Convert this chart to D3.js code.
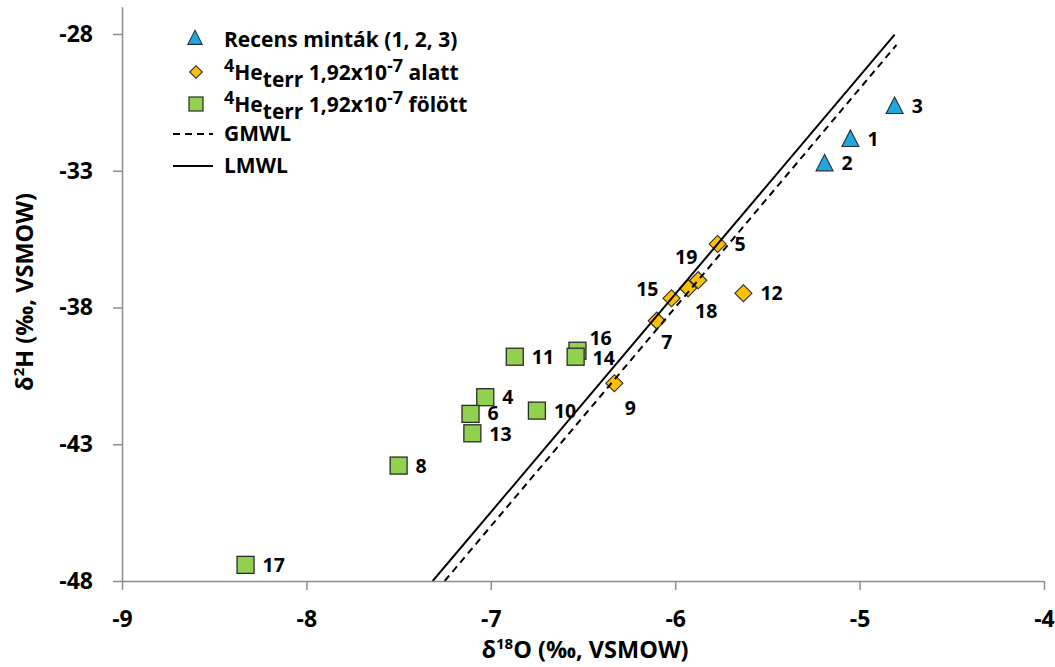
<!DOCTYPE html>
<html>
<head>
<meta charset="utf-8">
<script src="https://cdn.jsdelivr.net/npm/d3@7"></script>
<style>
  html, body { margin: 0; padding: 0; background: #fff; }
  svg { display: block; font-family: "Open Sans", "DejaVu Sans", sans-serif; }
</style>
</head>
<body>
<svg id="chart" width="1055" height="667"></svg>
<script>
// Sample ids and isotope values (δ18O, δ2H in ‰ VSMOW)
const recentIds = ["1", "2", "3"];
const recentO18 = [-5.05, -5.19, -4.81];
const recentH2  = [-31.84, -32.73, -30.63];

const lowHeIds = ["5", "19", "18", "15", "7", "12", "9"];
const lowHeO18 = [-5.77, -5.875, -5.93, -6.02, -6.10, -5.63, -6.33];
const lowHeH2  = [-35.68, -37.0, -37.3, -37.66, -38.48, -37.48, -40.77];

const highHeIds = ["11", "16", "14", "4", "6", "13", "10", "8", "17"];
const highHeO18 = [-6.87, -6.53, -6.54, -7.03, -7.11, -7.10, -6.75, -7.50, -8.33];
const highHeH2  = [-39.8, -39.58, -39.8, -41.28, -41.89, -42.6, -41.77, -43.78, -47.41];

// Meteoric water lines (end points)
const gmwlO18 = [-7.25, -4.80];
const gmwlH2  = [-48.0, -28.4];
const lmwlO18 = [-7.315, -4.81];
const lmwlH2  = [-48.0, -28.02];

// Axis ticks
const xTicks = [-9, -8, -7, -6, -5, -4];
const yTicks = [-48, -43, -38, -33, -28];

// Label placement around each marker: [dx, dy, anchor]
const labelPlace = {
  "16": [12, -13, "start"],
  "14": [17, 1, "start"],
  "19": [-12, -23, "middle"],
  "15": [-13, -9, "end"],
  "18": [7, 23, "start"],
  "7":  [10, 21, "middle"],
  "9":  [16, 25, "middle"],
  "6":  [17, -1, "start"],
  "13": [17, 1, "start"]
};
const defaultPlace = [17, 0, "start"];

const svg = d3.select("#chart");
const x = d3.scaleLinear().domain([-9, -4]).range([122, 1044]);
const y = d3.scaleLinear().domain([-48, -27]).range([581, 6.65]);

const axisColor = "#8c8c8c";

// X axis
const gx = svg.append("g").attr("transform", `translate(0,${y(-48)})`)
  .call(d3.axisBottom(x).tickValues(xTicks).tickSize(9).tickPadding(21)
    .tickFormat(d => String(d)));
gx.select(".domain").attr("stroke", axisColor).attr("stroke-width", 1.5)
  .attr("d", `M${x(-9)},0.5H${x(-4)}`);
gx.selectAll(".tick line").attr("stroke", axisColor).attr("stroke-width", 1.5);
gx.selectAll(".tick text").attr("font-size", 23).attr("font-weight", "bold")
  .attr("fill", "#000").attr("font-family", "'Open Sans', sans-serif");

// Y axis
const gy = svg.append("g").attr("transform", `translate(${x(-9)},0)`)
  .call(d3.axisLeft(y).tickValues(yTicks).tickSize(9).tickPadding(20).tickSizeOuter(0)
    .tickFormat(d => String(d)));
gy.select(".domain").attr("stroke", axisColor).attr("stroke-width", 1.5);
gy.selectAll(".tick line").attr("stroke", axisColor).attr("stroke-width", 1.5);
gy.selectAll(".tick text").attr("font-size", 23).attr("font-weight", "bold")
  .attr("fill", "#000").attr("font-family", "'Open Sans', sans-serif");

// Axis titles
const xt = svg.append("text").attr("x", 585).attr("y", 658)
  .attr("text-anchor", "middle").attr("font-size", 23.5).attr("font-weight", "bold");
xt.append("tspan").text("δ");
xt.append("tspan").attr("font-size", 15).attr("dy", -9).text("18");
xt.append("tspan").attr("dy", 9).text("O (‰, VSMOW)");

const yt = svg.append("text").attr("transform", `translate(33,292) rotate(-90)`)
  .attr("text-anchor", "middle").attr("font-size", 23.5).attr("font-weight", "bold");
yt.append("tspan").text("δ");
yt.append("tspan").attr("font-size", 15).attr("dy", -9).text("2");
yt.append("tspan").attr("dy", 9).text("H (‰, VSMOW)");

// Clip for plot area
svg.append("clipPath").attr("id", "plotClip").append("rect")
  .attr("x", x(-9)).attr("y", y(-27)).attr("width", x(-4) - x(-9)).attr("height", y(-48) - y(-27));

const zip = (ids, xs, ys) => ids.map((id, i) => ({ id, o: xs[i], h: ys[i] }));
const recent = zip(recentIds, recentO18, recentH2);
const lowHe = zip(lowHeIds, lowHeO18, lowHeH2);
const highHe = zip(highHeIds, highHeO18, highHeH2);

const marks = svg.append("g");
const stroke = "#2b2b2b";

// Squares
marks.selectAll("rect.hi").data(highHe).join("rect").attr("class", "hi")
  .attr("x", d => x(d.o) - 8.5).attr("y", d => y(d.h) - 8.5)
  .attr("width", 17).attr("height", 17)
  .attr("fill", "#92d050").attr("stroke", stroke).attr("stroke-width", 1.3);

// Diamonds
const diamond = d3.symbol().type(d3.symbolSquare).size(145);
marks.selectAll("path.lo").data(lowHe).join("path").attr("class", "lo")
  .attr("d", diamond)
  .attr("transform", d => `translate(${x(d.o)},${y(d.h)}) rotate(45)`)
  .attr("fill", "#ffc000").attr("stroke", stroke).attr("stroke-width", 1.1);

// Triangles
const tri = "M0,-9L8.5,7.5L-8.5,7.5Z";
marks.selectAll("path.re").data(recent).join("path").attr("class", "re")
  .attr("d", tri)
  .attr("transform", d => `translate(${x(d.o)},${y(d.h)})`)
  .attr("fill", "#1ea7e0").attr("stroke", stroke).attr("stroke-width", 1.1);

// Meteoric water lines
const lineGen = d3.line().x(d => x(d[0])).y(d => y(d[1]));
const lines = svg.append("g").attr("clip-path", "url(#plotClip)");
lines.append("path").datum(gmwlO18.map((v, i) => [v, gmwlH2[i]]))
  .attr("d", lineGen).attr("fill", "none").attr("stroke", "#000")
  .attr("stroke-width", 2).attr("stroke-dasharray", "7,5");
lines.append("path").datum(lmwlO18.map((v, i) => [v, lmwlH2[i]]))
  .attr("d", lineGen).attr("fill", "none").attr("stroke", "#000")
  .attr("stroke-width", 2);

// Point labels
const allPts = recent.concat(lowHe, highHe);
svg.append("g").selectAll("text").data(allPts).join("text")
  .attr("x", d => x(d.o) + (labelPlace[d.id] || defaultPlace)[0])
  .attr("y", d => y(d.h) + (labelPlace[d.id] || defaultPlace)[1])
  .attr("dy", "0.36em")
  .attr("text-anchor", d => (labelPlace[d.id] || defaultPlace)[2])
  .attr("font-size", 19.5).attr("font-weight", "bold").attr("fill", "#000")
  .text(d => d.id);

// Legend
const lg = svg.append("g");
lg.append("path").attr("d", tri).attr("transform", "translate(195,38) scale(0.85)")
  .attr("fill", "#1ea7e0").attr("stroke", stroke).attr("stroke-width", 1.2);
lg.append("path").attr("d", d3.symbol().type(d3.symbolSquare).size(80))
  .attr("transform", "translate(196,72) rotate(45)")
  .attr("fill", "#ffc000").attr("stroke", stroke).attr("stroke-width", 1.1);
lg.append("rect").attr("x", 189).attr("y", 97).attr("width", 14).attr("height", 14)
  .attr("fill", "#92d050").attr("stroke", stroke).attr("stroke-width", 1.2);
lg.append("line").attr("x1", 173).attr("x2", 213).attr("y1", 134).attr("y2", 134)
  .attr("stroke", "#000").attr("stroke-width", 2).attr("stroke-dasharray", "7,5");
lg.append("line").attr("x1", 173).attr("x2", 213).attr("y1", 166).attr("y2", 166)
  .attr("stroke", "#000").attr("stroke-width", 2);

const lt = (yy) => lg.append("text").attr("x", 224).attr("y", yy)
  .attr("font-size", 21).attr("font-weight", "bold").attr("fill", "#000");
lt(47).text("Recens minták (1, 2, 3)");
function heLabel(yy, word) {
  const t = lt(yy);
  t.append("tspan").attr("font-size", 18).attr("dy", -8).text("4");
  t.append("tspan").attr("font-size", 21).attr("dy", 8).text("He");
  t.append("tspan").attr("font-size", 21).attr("dy", 7).text("terr");
  t.append("tspan").attr("font-size", 21).attr("dy", -7).text(" 1,92x10");
  t.append("tspan").attr("font-size", 18).attr("dy", -8).text("-7");
  t.append("tspan").attr("font-size", 21).attr("dy", 8).text(" " + word);
}
heLabel(80, "alatt");
heLabel(112, "fölött");
lt(141).text("GMWL");
lt(173).text("LMWL");
</script>
</body>
</html>
